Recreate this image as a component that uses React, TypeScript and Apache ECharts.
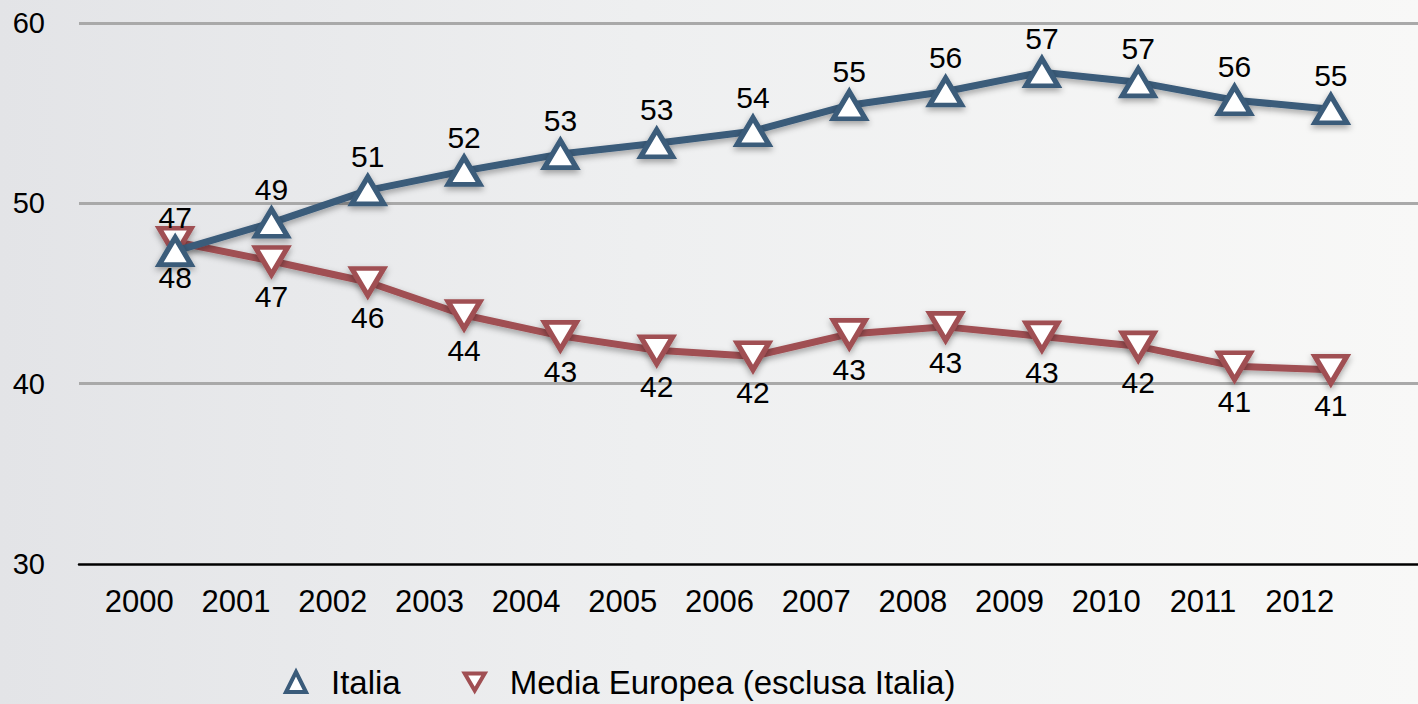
import { useEffect, useRef } from 'react';
import * as echarts from 'echarts';

const years = ['2000', '2001', '2002', '2003', '2004', '2005', '2006', '2007', '2008', '2009', '2010', '2011', '2012'];
const italia = [47.35, 48.92, 50.72, 51.8, 52.73, 53.33, 54.0, 55.44, 56.2, 57.27, 56.71, 55.72, 55.22];
const mediaEuropea = [47.87, 46.8, 45.64, 43.81, 42.65, 41.85, 41.52, 42.76, 43.15, 42.62, 42.07, 40.97, 40.77];
const yMin = 30;
const yMax = 60;
const yStep = 10;
const seriesNames = ['Italia', 'Media Europea (esclusa Italia)'];

const BLUE = '#3a5b7a';
const RED = '#a04f53';
const FONT = '"Liberation Sans", Arial, Helvetica, sans-serif';
const DOWN_TRI = 'path://M0,0L10,0L5,8.6Z';

export default function App() {
  const ref = useRef<HTMLDivElement>(null);
  useEffect(() => {
    document.body.style.margin = '0';
    const chart = echarts.init(ref.current!, null, { renderer: 'svg' });
    const yCommon = { type: 'value', min: yMin, max: yMax, interval: yStep };
    const shadow = { shadowColor: 'rgba(0,0,0,0.35)', shadowBlur: 6, shadowOffsetY: 3 };
    chart.setOption({
      animation: false,
      textStyle: { fontFamily: FONT },
      graphic: [
        {
          type: 'rect',
          left: 0,
          top: 0,
          z: -10,
          silent: true,
          shape: { width: 1418, height: 704 },
          style: {
            fill: new echarts.graphic.LinearGradient(0, 0, 1, 0, [
              { offset: 0, color: '#e3e4e7' },
              { offset: 0.45, color: '#eeeff0' },
              { offset: 1, color: '#f8f8f7' },
            ]),
          },
        },
      ],
      grid: [
        { left: 79, right: 0, top: 23, bottom: 140 },
        { left: 127, right: 39, top: 23, bottom: 140 },
        { left: 91, right: 70, top: 23, bottom: 140 },
      ],
      xAxis: [
        {
          gridIndex: 0,
          type: 'category',
          data: years,
          axisLine: { show: true, lineStyle: { color: '#000', width: 2.5 } },
          axisTick: { show: false },
          axisLabel: { show: false },
        },
        { gridIndex: 1, type: 'category', data: years, boundaryGap: true, show: false },
        {
          gridIndex: 2,
          type: 'category',
          data: years,
          axisLine: { show: false },
          axisTick: { show: false },
          axisLabel: { fontSize: 31, margin: 22, color: '#000', fontFamily: FONT },
        },
      ],
      yAxis: [
        {
          gridIndex: 0,
          ...yCommon,
          axisLine: { show: false },
          axisTick: { show: false },
          axisLabel: { fontSize: 29, margin: 34, color: '#000', fontFamily: FONT },
          splitLine: { show: true, showMinLine: false, lineStyle: { color: '#a9a9a9', width: 3 } },
        },
        { gridIndex: 1, ...yCommon, show: false },
        { gridIndex: 2, ...yCommon, show: false },
      ],
      legend: {
        left: 279,
        top: 660,
        itemWidth: 20,
        itemHeight: 20,
        itemGap: 62,
        textStyle: { fontSize: 33, lineHeight: 34, color: '#000', fontFamily: FONT, padding: [0, 0, 0, 20] },
        data: [
          { name: seriesNames[0], icon: 'triangle', itemStyle: { color: '#fff', borderColor: BLUE, borderWidth: 4 } },
          { name: seriesNames[1], icon: DOWN_TRI, itemStyle: { color: '#fff', borderColor: RED, borderWidth: 4 } },
        ],
      },
      series: [
        {
          name: seriesNames[1],
          type: 'line',
          xAxisIndex: 1,
          yAxisIndex: 1,
          data: mediaEuropea,
          symbol: DOWN_TRI,
          symbolSize: [32, 27],
          symbolKeepAspect: false,
          lineStyle: { color: RED, width: 7, ...shadow },
          itemStyle: { color: '#fff', borderColor: RED, borderWidth: 5, ...shadow },
          label: {
            show: true,
            position: 'bottom',
            distance: 5,
            fontSize: 30,
            color: '#000',
            fontFamily: FONT,
            formatter: (p: any) => String(Math.round(p.value)),
          },
          z: 3,
        },
        {
          name: seriesNames[0],
          type: 'line',
          xAxisIndex: 1,
          yAxisIndex: 1,
          data: italia,
          symbol: 'triangle',
          symbolSize: [32, 27],
          lineStyle: { color: BLUE, width: 7, ...shadow },
          itemStyle: { color: '#fff', borderColor: BLUE, borderWidth: 5, ...shadow },
          label: {
            show: true,
            position: 'top',
            distance: 3,
            fontSize: 30,
            color: '#000',
            fontFamily: FONT,
            formatter: (p: any) => String(Math.round(p.value)),
          },
          z: 4,
        },
      ],
    });
    return () => chart.dispose();
  }, []);
  return <div ref={ref} style={{ width: 1418, height: 704 }} />;
}
